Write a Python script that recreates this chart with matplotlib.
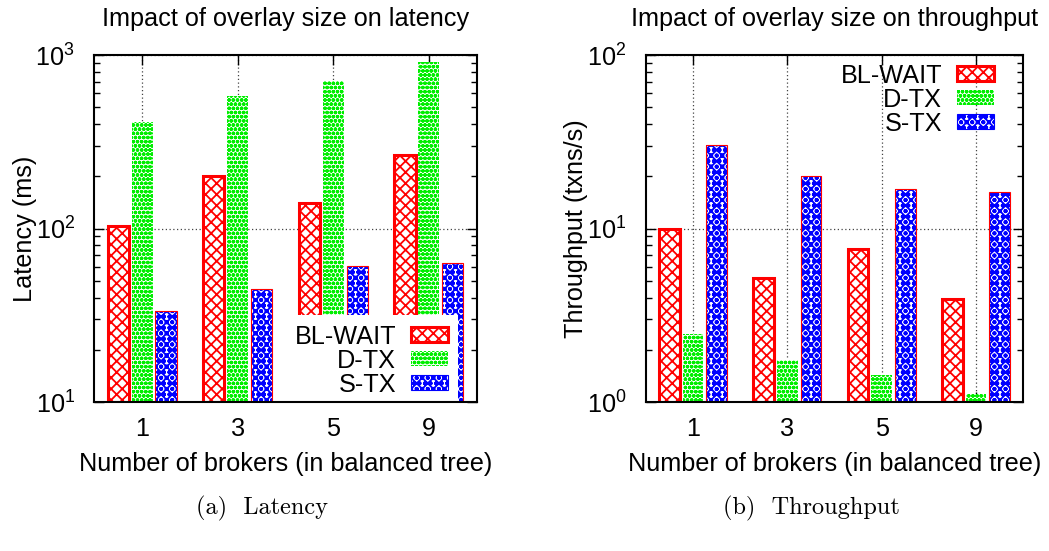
import numpy as np
import matplotlib
matplotlib.use("Agg")
import matplotlib.pyplot as plt
from matplotlib.ticker import LogLocator, NullFormatter, FuncFormatter

plt.rcParams['font.family'] = ['Liberation Sans', 'DejaVu Sans']
plt.rcParams['mathtext.fontset'] = 'custom'
plt.rcParams['mathtext.rm'] = 'Liberation Sans'
plt.rcParams['mathtext.it'] = 'Liberation Sans'
plt.rcParams['hatch.linewidth'] = 1.3

# data
brokers = ["1", "3", "5", "9"]
series = ["BL-WAIT", "D-TX", "S-TX"]
latency_bl = [104, 201, 141, 266]
latency_dtx = [412, 578, 708, 916]
latency_stx = [33.5, 45, 61, 63]
thr_bl = [10.0, 5.2, 7.6, 3.9]
thr_dtx = [2.46, 1.75, 1.44, 1.11]
thr_stx = [30.4, 20.1, 16.9, 16.2]

# style per series: hatch colour, hatch, edge colour, edge width
styles = [
    ("#ff0000", "xxx", "#ff0000", 2.2),
    ("#00ee00", "oooo", "#00ee00", 0.0),
    ("#0000ff", "xxxooo", "#ff0000", 0.8),
]

FS = 18.2
W = 0.22
OFF = [-0.25, 0.0, 0.25]


def sci(v, pos):
    return r"$10^{%d}$" % int(round(np.log10(v)))


def draw(ax, values, ylim, title, ylabel):
    x = np.arange(len(brokers))
    base = ylim[0]
    handles = []
    for (hc, hatch, ec, lw), off, vals, name in zip(styles, OFF, values, series):
        h = np.array(vals, dtype=float) - base
        ax.bar(x + off, h, W, bottom=base, color="white", edgecolor=hc,
               hatch=hatch, linewidth=0, zorder=2)
        if lw > 0:
            ax.bar(x + off, h, W, bottom=base, fill=False, edgecolor=ec,
                   linewidth=lw, zorder=3)
        handles.append(plt.Rectangle((0, 0), 1, 1, facecolor="white", edgecolor=hc,
                                     hatch=hatch, linewidth=lw))
    ax.set_yscale("log")
    ax.set_ylim(*ylim)
    ax.set_xlim(-0.5, 3.5)
    ax.set_xticks(x)
    ax.set_xticklabels(brokers)
    ax.yaxis.set_major_locator(LogLocator(base=10, numticks=10))
    ax.yaxis.set_major_formatter(FuncFormatter(sci))
    ax.yaxis.set_minor_locator(LogLocator(base=10, subs=np.arange(2, 10), numticks=10))
    ax.yaxis.set_minor_formatter(NullFormatter())
    ax.tick_params(which="both", direction="in", top=True, right=True, labelsize=FS)
    ax.tick_params(which="major", length=7, width=1)
    ax.tick_params(which="minor", length=4, width=1)
    ax.tick_params(axis="x", pad=11)
    ax.tick_params(axis="y", pad=14)
    ax.grid(True, which="major", linestyle=(0, (1, 2)), color="#444444", linewidth=0.9, zorder=0)
    ax.set_axisbelow(True)
    for s in ax.spines.values():
        s.set_linewidth(1.5)
        s.set_zorder(6)
    ax.set_title(title, fontsize=FS, pad=21)
    ax.set_ylabel(ylabel, fontsize=FS, labelpad=-1)
    ax.set_xlabel("Number of brokers (in balanced tree)", fontsize=FS, labelpad=8)
    return handles


fig = plt.figure(figsize=(10.49, 5.51), dpi=100)
ax1 = fig.add_axes([94.3 / 1049, 1 - 402 / 551, 382.4 / 1049, 347 / 551])
ax2 = fig.add_axes([645.7 / 1049, 1 - 402 / 551, 377.6 / 1049, 347 / 551])

h1 = draw(ax1, [latency_bl, latency_dtx, latency_stx], (10, 1000),
          "Impact of overlay size on latency", "Latency (ms)")
h2 = draw(ax2, [thr_bl, thr_dtx, thr_stx], (1, 100),
          "Impact of overlay size on throughput", "Throughput (txns/s)")

leg1 = ax1.legend(h1, series, loc="lower right", bbox_to_anchor=(0.95, -0.012),
                  markerfirst=False, frameon=True, fancybox=False, edgecolor="none",
                  fontsize=FS, handlelength=1.45, handleheight=0.5, handletextpad=0.6,
                  labelspacing=0.0, borderpad=0.38, borderaxespad=0, framealpha=1)
leg1.set_zorder(5)
leg2 = ax2.legend(h2, series, loc="upper right", bbox_to_anchor=(0.922, 0.975),
                  markerfirst=False, frameon=False, fontsize=FS, handlelength=1.45,
                  handleheight=0.5, handletextpad=0.6, labelspacing=0.0,
                  borderpad=0.0, borderaxespad=0)

fig.text(262 / 1049, 1 - 508 / 551, "(a)  Latency", family="cmr10", fontsize=17.5,
         ha="center", va="center")
fig.text(811 / 1049, 1 - 508 / 551, "(b)  Throughput", family="cmr10", fontsize=17.5,
         ha="center", va="center")

fig.savefig("out.png", dpi=100)
